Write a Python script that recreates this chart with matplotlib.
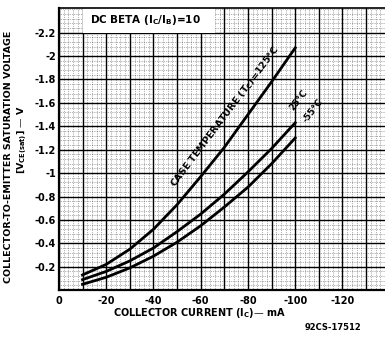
import numpy as np
import matplotlib
matplotlib.use("Agg")
import matplotlib.pyplot as plt
from matplotlib.patches import Rectangle

# collector current (mA) and saturation voltage (V)
ic_ma = [-10, -20, -30, -40, -50, -60, -70, -80, -90, -100]
vce_125 = [-0.13, -0.22, -0.35, -0.52, -0.73, -0.97, -1.22, -1.50, -1.78, -2.07]
vce_25 = [-0.09, -0.16, -0.25, -0.36, -0.50, -0.65, -0.82, -1.01, -1.21, -1.43]
vce_m55 = [-0.05, -0.11, -0.19, -0.29, -0.41, -0.55, -0.71, -0.88, -1.08, -1.30]

x_ticks = [0, -20, -40, -60, -80, -100, -120]
x_labels = ["0", "-20", "-40", "-60", "-80", "-100", "-120"]
y_ticks = [-0.2, -0.4, -0.6, -0.8, -1.0, -1.2, -1.4, -1.6, -1.8, -2.0, -2.2]
y_labels = ["-0.2", "-0.4", "-0.6", "-0.8", "-1", "-1.2", "-1.4", "-1.6", "-1.8", "-2", "-2.2"]

plt.rcParams['font.family'] = 'DejaVu Sans'
plt.rcParams['font.weight'] = 'bold'
plt.rcParams['mathtext.default'] = 'bf'

fig = plt.figure(figsize=(3.85, 3.37), dpi=100)
ax = fig.add_axes([0.153, 0.139, 0.847, 0.837])

ax.set_xlim(0, -138)
ax.set_ylim(0, -2.41)

ax.set_xticks(x_ticks)
ax.set_xticklabels(x_labels, fontsize=7, fontweight='bold')
ax.set_yticks(y_ticks)
ax.set_yticklabels(y_labels, fontsize=7, fontweight='bold')
ax.set_xticks(np.arange(0, -138, -2), minor=True)
ax.set_yticks(np.arange(0, -2.41, -0.04), minor=True)
ax.tick_params(which='both', length=0)
ax.tick_params(axis='x', pad=4)
ax.tick_params(axis='y', pad=2)

ax.grid(which='major', color='black', lw=1.0)
ax.grid(which='minor', color='black', lw=0.5, ls=(0, (1, 1.6)), alpha=0.6)
# in-between major verticals every 10 mA
for xv in np.arange(-10, -138, -20):
    ax.axvline(xv, color='black', lw=1.0, zorder=0.5)
ax.set_axisbelow(True)

for s in ['left', 'bottom']:
    ax.spines[s].set_linewidth(1.6)
ax.spines['top'].set_linewidth(1.2)
ax.spines['right'].set_visible(False)

# white label box at the top
ax.add_patch(Rectangle((-10, -2.2), -56, -0.21, facecolor='white', edgecolor='none', zorder=2))
ax.text(-13, -2.31, "DC BETA (I$_C$/I$_B$)=10", fontsize=7.5, fontweight='bold',
        va='center', ha='left', zorder=3)

for v in [vce_125, vce_25, vce_m55]:
    ax.plot(ic_ma, v, color='black', lw=2.0, zorder=4)

ax.text(-70.5, -1.48, "CASE TEMPERATURE (T$_C$)=125°C", fontsize=6.8, fontweight='bold',
        rotation=53, ha='center', va='center', zorder=5)
ax.text(-101.5, -1.62, "25°C", fontsize=6.5, fontweight='bold', rotation=52,
        ha='center', va='center', zorder=5)
ax.text(-107.5, -1.53, "-55°C", fontsize=6.5, fontweight='bold', rotation=52,
        ha='center', va='center', zorder=5)

fig.text(9 / 385, 1 - 157 / 337, "COLLECTOR-TO-EMITTER SATURATION VOLTAGE",
         rotation=90, fontsize=6.8, fontweight='bold', ha='center', va='center')
fig.text(22 / 385, 1 - 140 / 337, "[V$_{CE(sat)}$] — V",
         rotation=90, fontsize=6.8, fontweight='bold', ha='center', va='center')
fig.text(200 / 385, 1 - 313 / 337, "COLLECTOR CURRENT (I$_C$)— mA",
         fontsize=7, fontweight='bold', ha='center', va='center')
fig.text(333 / 385, 1 - 328 / 337, "92CS-17512",
         fontsize=6, fontweight='bold', ha='center', va='center')

fig.savefig("out.png", dpi=100)
